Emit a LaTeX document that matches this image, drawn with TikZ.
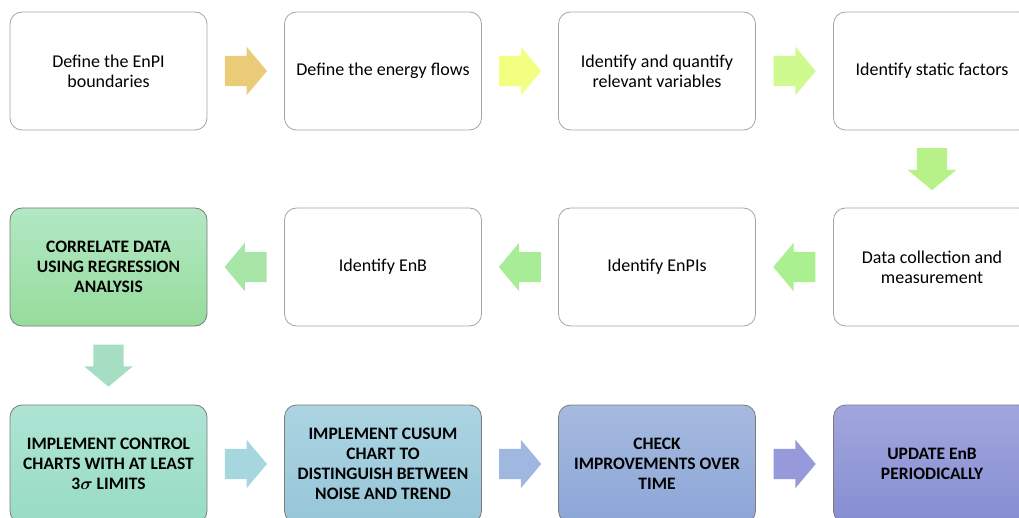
\documentclass[tikz,border=0pt]{standalone}
\usepackage{fontspec}
\setmainfont{Carlito}
\usetikzlibrary{shapes.arrows,calc}

\definecolor{boxline}{HTML}{A4A4A4}
\definecolor{keyline}{HTML}{7C7C7C}
\definecolor{regrtop}{HTML}{B2E8C4}
\definecolor{regrbot}{HTML}{96DC9C}
\definecolor{ctrltop}{HTML}{AEE4D4}
\definecolor{ctrlbot}{HTML}{98DCC4}
\definecolor{cusumtop}{HTML}{ACD4E2}
\definecolor{cusumbot}{HTML}{96C6D8}
\definecolor{checktop}{HTML}{A6BADE}
\definecolor{checkbot}{HTML}{8CA6D8}
\definecolor{updtop}{HTML}{A2A6DE}
\definecolor{updbot}{HTML}{868ED2}

\tikzset{
  stepbox/.style={draw=boxline, line width=0.8pt, rounded corners=12pt,
    minimum width=197pt, minimum height=118pt, align=center,
    font=\fontsize{18}{20}\selectfont},
  keybox/.style 2 args={stepbox, draw=keyline, font=\fontsize{17.5}{20}\selectfont\bfseries\boldmath,
    top color=#1, bottom color=#2},
  blockarrow/.style={single arrow, anchor=tail, minimum height=42pt, inner xsep=0pt, inner ysep=15pt,
    single arrow head extend=9pt, single arrow tip angle=100, draw=none},
  leftarrow/.style={blockarrow, shape border rotate=180},
  downarrow/.style={blockarrow, shape border rotate=270, inner xsep=15pt, inner ysep=0pt}
}

\begin{document}
\begin{tikzpicture}[x=1pt,y=1pt]
\useasboundingbox (0,0) rectangle (1019,517);

\node[stepbox] (bound) at (108.5,446) {Define the EnPI\\boundaries};
\node[stepbox] (flows) at (383,446) {Define the energy flows};
\node[stepbox] (vars) at (657,446) {Identify and quantify\\relevant variables};
\node[stepbox] (static) at (932,446) {Identify static factors};

\node[stepbox] (data) at (932,250) {Data collection and\\measurement};
\node[stepbox] (enpis) at (657,250) {Identify EnPIs};
\node[stepbox] (enb) at (383,250) {Identify EnB};
\node[keybox={regrtop}{regrbot}] (regr) at (108.5,250) {CORRELATE DATA\\USING REGRESSION\\ANALYSIS};

\node[keybox={ctrltop}{ctrlbot}] (ctrl) at (108.5,53) {IMPLEMENT CONTROL\\CHARTS WITH AT LEAST\\3$\sigma$ LIMITS};
\node[keybox={cusumtop}{cusumbot}] (cusum) at (383,53) {IMPLEMENT CUSUM\\CHART TO\\DISTINGUISH BETWEEN\\NOISE AND TREND};
\node[keybox={checktop}{checkbot}] (check) at (657,53) {CHECK\\IMPROVEMENTS OVER\\TIME};
\node[keybox={updtop}{updbot}] (update) at (932,53) {UPDATE EnB\\PERIODICALLY};

\node[blockarrow, fill={rgb,255:red,234;green,204;blue,120}] (a1) at ($(bound.east)!0.5!(flows.west)+(-21,0)$) {};
\node[blockarrow, fill={rgb,255:red,242;green,255;blue,128}] (a2) at ($(flows.east)!0.5!(vars.west)+(-21,0)$) {};
\node[blockarrow, fill={rgb,255:red,206;green,250;blue,144}] (a3) at ($(vars.east)!0.5!(static.west)+(-21,0)$) {};
\node[downarrow, fill={rgb,255:red,182;green,242;blue,136}] (a4) at ($(static.south)!0.5!(data.north)+(0,21)$) {};
\node[leftarrow, fill={rgb,255:red,170;green,240;blue,144}] (a5) at ($(data.west)!0.5!(enpis.east)+(21,0)$) {};
\node[leftarrow, fill={rgb,255:red,168;green,236;blue,152}] (a6) at ($(enpis.west)!0.5!(enb.east)+(21,0)$) {};
\node[leftarrow, fill={rgb,255:red,168;green,230;blue,168}] (a7) at ($(enb.west)!0.5!(regr.east)+(21,0)$) {};
\node[downarrow, fill={rgb,255:red,166;green,222;blue,196}] (a8) at ($(regr.south)!0.5!(ctrl.north)+(0,21)$) {};
\node[blockarrow, fill={rgb,255:red,166;green,214;blue,222}] (a9) at ($(ctrl.east)!0.5!(cusum.west)+(-21,0)$) {};
\node[blockarrow, fill={rgb,255:red,158;green,184;blue,224}] (a10) at ($(cusum.east)!0.5!(check.west)+(-21,0)$) {};
\node[blockarrow, fill={rgb,255:red,150;green,154;blue,218}] (a11) at ($(check.east)!0.5!(update.west)+(-21,0)$) {};
\end{tikzpicture}
\end{document}
